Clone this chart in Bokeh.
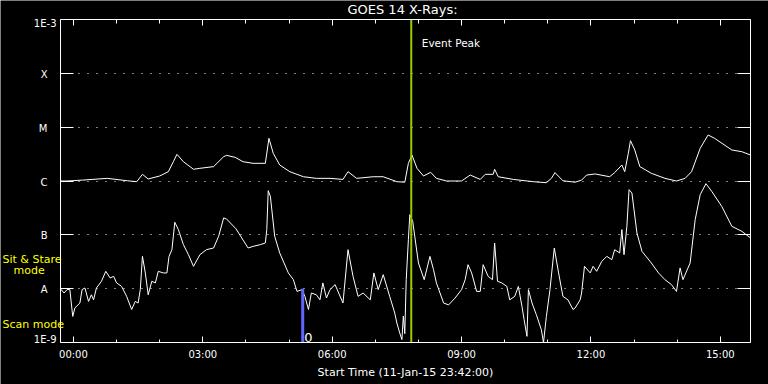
import math
import pandas as pd
from bokeh.plotting import figure
from bokeh.models import (Range1d, LogAxis, DatetimeAxis, FixedTicker, DatetimeTickFormatter,
                          CustomJSTickFormatter, Label, Grid)
from bokeh.embed import file_html
from bokeh.resources import INLINE

# ---------------- data (minutes relative to 2015-01-12 00:00 UT) ----------------
start_min, end_min = -18, 942            # 11-Jan-15 23:42 -> 12-Jan-15 15:42
event_peak_min = 470                      # 07:50
scan_mode_min = 319                       # 05:19

# GOES 14 long channel (1-8 A), W/m^2
long_t = [-18, -9, 13, 47, 75, 88, 96, 104, 120, 132,
          139, 144, 153, 167, 176, 195, 209, 213, 225, 236,
          250, 267, 272, 278, 287, 301, 320, 338, 357, 375,
          382, 394, 417, 431, 450, 461, 466, 471, 478, 487,
          497, 505, 519, 540, 552, 566, 573, 584, 586, 591,
          612, 640, 658, 665, 670, 681, 698, 707, 714, 726,
          746, 753, 763, 767, 772, 775, 781, 788, 804, 823,
          839, 851, 860, 872, 883, 892, 916, 930, 942]
long_flux = [1.0e-6, 1.0e-6, 1.04e-6, 1.12e-6, 1.01e-6, 0.97e-6, 1.33e-6, 1.09e-6, 1.24e-6, 1.49e-6,
             2.28e-6, 3.13e-6, 2.28e-6, 1.65e-6, 1.72e-6, 1.85e-6, 2.83e-6, 3.0e-6, 2.75e-6, 2.28e-6,
             2.13e-6, 2.13e-6, 6.21e-6, 3.27e-6, 1.98e-6, 1.49e-6, 1.2e-6, 1.12e-6, 1.12e-6, 1.07e-6,
             1.49e-6, 1.12e-6, 1.2e-6, 1.2e-6, 0.97e-6, 0.95e-6, 2.13e-6, 3.04e-6, 1.72e-6, 1.24e-6,
             1.45e-6, 1.12e-6, 1.0e-6, 1.0e-6, 1.29e-6, 1.07e-6, 1.33e-6, 1.33e-6, 1.65e-6, 1.2e-6,
             1.07e-6, 0.97e-6, 0.93e-6, 1.12e-6, 1.43e-6, 1.01e-6, 0.95e-6, 1.04e-6, 1.29e-6, 1.35e-6,
             1.2e-6, 1.43e-6, 1.98e-6, 1.49e-6, 3.27e-6, 5.61e-6, 3.77e-6, 1.85e-6, 1.39e-6, 1.12e-6,
             1.0e-6, 1.12e-6, 1.49e-6, 4.05e-6, 7.16e-6, 6.21e-6, 3.77e-6, 3.5e-6, 3.04e-6]

# GOES 14 short channel (0.5-4 A), W/m^2
short_t = [-18, -13, -9, -5, -1, 2, 9, 12, 16, 21,
           25, 28, 32, 39, 45, 51, 56, 60, 67, 74,
           81, 86, 90, 93, 96, 100, 104, 109, 114, 118,
           125, 130, 133, 137, 141, 146, 153, 160, 167, 176,
           185, 195, 202, 209, 213, 226, 243, 250, 260, 267,
           269, 271, 274, 280, 287, 299, 306, 311, 318, 322,
           327, 331, 338, 343, 347, 352, 357, 364, 369, 375,
           382, 389, 396, 403, 413, 418, 424, 431, 440, 447,
           450, 454, 457, 459, 461, 463, 466, 468, 472, 480,
           488, 496, 501, 505, 515, 522, 531, 540, 545, 549,
           554, 561, 566, 570, 577, 583, 586, 590, 596, 603,
           607, 614, 619, 624, 627, 631, 633, 638, 644, 651,
           654, 658, 663, 669, 675, 681, 688, 695, 698, 705,
           707, 711, 719, 723, 728, 735, 742, 749, 753, 760,
           763, 766, 770, 773, 777, 784, 791, 804, 814, 823,
           832, 839, 844, 848, 858, 865, 872, 880, 888, 902,
           916, 930, 942]
short_flux = [0.99e-8, 0.83e-8, 0.96e-8, 0.96e-8, 0.305e-8, 0.438e-8, 0.542e-8, 0.96e-8, 1.03e-8, 0.58e-8,
              0.77e-8, 0.62e-8, 1.03e-8, 1.37e-8, 2.1e-8, 1.58e-8, 1.69e-8, 1.28e-8, 1.1e-8, 0.72e-8,
              0.41e-8, 0.58e-8, 0.542e-8, 0.96e-8, 3.98e-8, 1.96e-8, 0.77e-8, 1.37e-8, 1.28e-8, 2.1e-8,
              1.96e-8, 1.96e-8, 3.98e-8, 5.3e-8, 17.1e-8, 12.5e-8, 6.57e-8, 4.28e-8, 2.6e-8, 4.28e-8,
              5.3e-8, 5.7e-8, 9.4e-8, 20.6e-8, 19.7e-8, 13.0e-8, 5.7e-8, 6.1e-8, 6.57e-8, 7.06e-8,
              12.5e-8, 66.2e-8, 51.9e-8, 9.4e-8, 4.6e-8, 1.96e-8, 1.47e-8, 0.89e-8, 0.96e-8, 0.72e-8,
              0.41e-8, 0.83e-8, 0.77e-8, 0.62e-8, 1.28e-8, 0.67e-8, 0.96e-8, 1.19e-8, 0.83e-8, 0.542e-8,
              5.3e-8, 1.69e-8, 0.72e-8, 0.83e-8, 0.62e-8, 1.96e-8, 0.96e-8, 1.82e-8, 0.72e-8, 0.354e-8,
              0.23e-8, 0.15e-8, 0.113e-8, 0.31e-8, 0.146e-8, 1.47e-8, 8.1e-8, 23.7e-8, 17.8e-8, 3.0e-8,
              1.47e-8, 3.98e-8, 2.25e-8, 1.28e-8, 0.542e-8, 0.5e-8, 0.67e-8, 0.96e-8, 1.47e-8, 2.79e-8,
              1.96e-8, 0.89e-8, 0.89e-8, 2.79e-8, 1.69e-8, 1.47e-8, 7.06e-8, 1.37e-8, 1.28e-8, 1.1e-8,
              0.62e-8, 0.72e-8, 1.1e-8, 0.47e-8, 0.265e-8, 0.13e-8, 0.96e-8, 0.542e-8, 0.33e-8, 0.173e-8,
              0.1e-8, 0.305e-8, 0.96e-8, 5.7e-8, 1.96e-8, 0.72e-8, 0.62e-8, 0.41e-8, 0.438e-8, 0.62e-8,
              0.83e-8, 2.6e-8, 1.96e-8, 2.6e-8, 2.1e-8, 3.21e-8, 3.98e-8, 3.46e-8, 5.3e-8, 4.6e-8,
              12.5e-8, 4.28e-8, 14.4e-8, 69.0e-8, 60.0e-8, 10.8e-8, 4.93e-8, 3.0e-8, 1.96e-8, 1.47e-8,
              1.19e-8, 0.89e-8, 2.43e-8, 1.47e-8, 3.0e-8, 19.1e-8, 55.8e-8, 89.3e-8, 64.3e-8, 33.8e-8,
              14.4e-8, 11.6e-8, 8.75e-8]

ytick_values = [1e-9, 1e-8, 1e-7, 1e-6, 1e-5, 1e-4, 1e-3]
ytick_labels = ["1E-9", "A", "B", "C", "M", "X", "1E-3"]
xtick_hours = [0, 3, 6, 9, 12, 15]
xminor_hours = list(range(0, 16))

title_text = "GOES 14 X-Rays:"
xaxis_title = "Start Time (11-Jan-15 23:42:00)"
mode_labels = ["Sit & Stare", "mode", "Scan mode"]

# ---------------- layout helpers (pixels) ----------------
W, H = 768, 384
FL, FR, FT, FB = 60, 750, 19, 342          # plot box edges on the canvas
base_ms = pd.Timestamp("2015-01-12 00:00").value / 1e6
MIN = 60000.0
HOUR = 3600000.0
x0_ms, x1_ms = base_ms + start_min * MIN, base_ms + end_min * MIN
ymin, ymax = ytick_values[0], ytick_values[-1]
lo, hi = math.log10(ymin), math.log10(ymax)

def px_to_x(px):   # canvas x pixel -> data x (ms)
    return x0_ms + (px - FL) / (FR - FL) * (x1_ms - x0_ms)

def py_to_y(py):   # canvas y pixel -> data y (flux)
    return 10 ** (lo + (FB - py) / (FB - FT) * (hi - lo))

def to_ms(mins):
    return [base_ms + m * MIN for m in mins]

FONT = "DejaVu Sans"
YEL = "#ffff00"

# the frame fills the canvas; the plot box and its axes are placed with fixed locations
p = figure(width=W, height=H, x_axis_type="datetime", y_axis_type="log",
           x_range=Range1d(px_to_x(0), px_to_x(W)), y_range=Range1d(py_to_y(H), py_to_y(0)),
           title=None, output_backend="svg", toolbar_location=None, min_border=0,
           background_fill_color="black", border_fill_color="black", outline_line_color=None)

xticker = FixedTicker(ticks=[base_ms + h * HOUR for h in xtick_hours],
                      minor_ticks=[base_ms + h * HOUR for h in xminor_hours])
yticker = FixedTicker(ticks=ytick_values, minor_ticks=[])

fmt = "%H:%M"
xfmt = DatetimeTickFormatter(microseconds=fmt, milliseconds=fmt, seconds=fmt, minsec=fmt,
                             minutes=fmt, hourmin=fmt, hours=fmt, days=fmt, months=fmt, years=fmt)
blank = CustomJSTickFormatter(code="return ''")

# bottom axis
xb = p.xaxis[0]
xb.fixed_location = ymin
xb.bounds = (x0_ms, x1_ms)
xb.ticker = xticker
xb.formatter = xfmt
xb.major_tick_in = 6
xb.major_tick_out = 0
xb.minor_tick_in = 3
xb.minor_tick_out = 0
xb.axis_line_color = "white"
xb.major_tick_line_color = "white"
xb.minor_tick_line_color = "white"
xb.major_label_text_color = "white"
xb.major_label_text_font = FONT
xb.major_label_text_font_size = "10px"
xb.major_label_standoff = 6
xb.axis_label = xaxis_title
xb.axis_label_text_color = "white"
xb.axis_label_text_font = FONT
xb.axis_label_text_font_style = "normal"
xb.axis_label_text_font_size = "11px"
xb.axis_label_standoff = 3

# top axis (ticks only)
xt = DatetimeAxis(ticker=xticker, formatter=blank, fixed_location=ymax, bounds=(x0_ms, x1_ms),
                  major_tick_in=6, major_tick_out=0, minor_tick_in=4, minor_tick_out=0,
                  axis_line_color="white", major_tick_line_color="white", minor_tick_line_color="white",
                  major_label_text_color=None, major_label_standoff=0)
p.add_layout(xt, "above")

# left axis: line + ticks
yl = p.yaxis[0]
yl.fixed_location = x0_ms
yl.bounds = (ymin, ymax)
yl.ticker = yticker
yl.formatter = blank
yl.major_tick_in = 13
yl.major_tick_out = 0
yl.minor_tick_line_color = None
yl.axis_line_color = "white"
yl.major_tick_line_color = "white"
yl.major_label_text_color = None
yl.major_label_standoff = 0

# right axis (ticks only)
yr = LogAxis(ticker=yticker, formatter=blank, fixed_location=x1_ms, bounds=(ymin, ymax),
             major_tick_in=13, major_tick_out=0,
             minor_tick_line_color=None, axis_line_color="white", major_tick_line_color="white",
             major_label_text_color=None, major_label_standoff=0)
p.add_layout(yr, "right")

# dotted decade grid inside the box
p.xgrid.visible = False
gy = p.ygrid[0]
gy.ticker = FixedTicker(ticks=ytick_values[1:-1], minor_ticks=[])
gy.grid_line_color = "white"
gy.grid_line_dash = "1 8"
gy.grid_line_width = 1
if "cross_bounds" in Grid.properties():
    gy.cross_bounds = (x0_ms, x1_ms)
else:
    gy.visible = False
    n = len(ytick_values) - 2
    p.segment(x0=[x0_ms] * n, y0=ytick_values[1:-1], x1=[x1_ms] * n, y1=ytick_values[1:-1],
              line_color="white", line_dash="1 8", line_width=1, level="underlay")

def label_axis(side, at_px, ys, labels, standoff, color, size):
    ax = LogAxis(ticker=FixedTicker(ticks=ys, minor_ticks=[]),
                 formatter=CustomJSTickFormatter(args=dict(labels=labels), code="return labels[index]"),
                 fixed_location=px_to_x(at_px), axis_line_color=None, major_tick_line_color=None,
                 minor_tick_line_color=None, major_tick_in=0, major_tick_out=0,
                 major_label_standoff=standoff, major_label_text_color=color,
                 major_label_text_font=FONT, major_label_text_font_size=size)
    p.add_layout(ax, side)

# y tick labels, centred at x ~ 44 like the reference (nudged inwards at the ends)
dec_px = (FB - FT) / 6.0
end_idx = [0, 6]
mid_idx = [1, 2, 3, 4, 5]
nudge = {0: -3.0, 6: 3.5}
def tick_py(i):
    return FB - i * dec_px + nudge.get(i, 1.0)
label_axis("left", FL, [py_to_y(tick_py(i)) for i in end_idx],
           [ytick_labels[i] for i in end_idx], 4, "white", "10px")
label_axis("left", FL, [py_to_y(tick_py(i)) for i in mid_idx],
           [ytick_labels[i] for i in mid_idx], 13, "white", "10px")

# yellow mode labels (left-aligned, drawn by right-side label axes placed at the canvas left)
label_axis("right", 2, [py_to_y(258.5), py_to_y(324)], [mode_labels[0], mode_labels[2]], 0, YEL, "11px")
label_axis("right", 13, [py_to_y(269.5)], [mode_labels[1]], 0, YEL, "11px")

# data lines
p.line(to_ms(long_t), long_flux, line_color="white", line_width=1)
p.line(to_ms(short_t), short_flux, line_color="white", line_width=1)

# scan-mode marker
scan_ms = base_ms + scan_mode_min * MIN
p.segment(x0=[scan_ms], y0=[ymin], x1=[scan_ms], y1=[1e-8], line_color="#6464ff", line_width=3)
p.add_layout(Label(x=scan_ms, y=ymin, text="0", x_offset=1.5, y_offset=5.5,
                   text_align="left", text_baseline="alphabetic", text_color="white",
                   text_font=FONT, text_font_size="13px"))

# event peak
event_ms = base_ms + event_peak_min * MIN
p.segment(x0=[event_ms], y0=[ymin], x1=[event_ms], y1=[ymax], line_color="#99cc00", line_width=2)
p.add_layout(Label(x=event_ms, y=ymax, text="Event Peak", x_offset=10.5, y_offset=-23.5,
                   text_align="left", text_baseline="middle", text_color="white",
                   text_font=FONT, text_font_size="10.5px"))

# title
p.add_layout(Label(x=px_to_x(402), y=ymax, text=title_text, y_offset=10,
                   text_align="center", text_baseline="middle", text_color="white",
                   text_font=FONT, text_font_size="13px"))

open("out.html", "w").write(file_html(p, INLINE))
